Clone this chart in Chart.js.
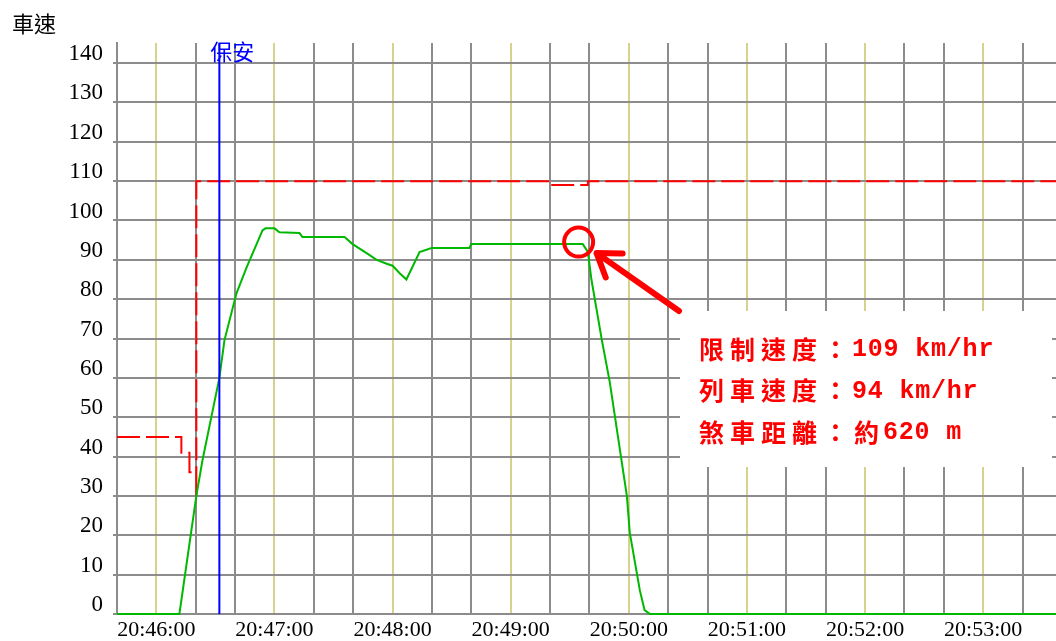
<!DOCTYPE html>
<html>
<head>
<meta charset="utf-8">
<script src="https://cdn.jsdelivr.net/npm/chart.js@4.4.0/dist/chart.umd.min.js"></script>
<style>
html, body { margin: 0; padding: 0; background: #ffffff; }
#wrap { width: 1056px; height: 641px; }
</style>
</head>
<body>
<div id="wrap"><canvas id="speedChart"></canvas></div>
<script>
// seconds counted from 20:46:00
const xMin = -20;
const xMax = 457;
const yMax = 145.1;

const tickSeconds = [0, 60, 120, 180, 240, 300, 360, 420];
const tickLabels = ['20:46:00', '20:47:00', '20:48:00', '20:49:00', '20:50:00', '20:51:00', '20:52:00', '20:53:00'];

// train speed (green)
const speedTimes  = [-20, 11.7, 20.3, 23.4, 32, 34.6, 40.7, 45.8, 53.9, 55.4, 60, 62.5, 72.7, 74.2, 95.6, 99.7, 106.8, 111.9, 117, 120, 123.6, 127, 133.7, 139.8, 159, 160, 216.6, 219.2, 221, 226.3, 230.3, 239, 240.5, 245.6, 248, 250.7, 457];
const speedValues = [0, 0, 30, 39, 60, 69.6, 81.5, 88, 97.5, 98, 98, 97, 96.8, 95.8, 95.8, 94, 91.7, 90, 89, 88.5, 86.6, 85, 92, 93, 93, 94, 94, 92, 85, 69.6, 59, 30, 20.6, 6, 1, 0, 0];

// speed limit (red dashed)
const limitTimes  = [-20, 12.7, 12.7, 16.8, 16.8, 20.3, 20.3, 20.3, 200.3, 200.3, 219.2, 219.2, 457];
const limitValues = [45, 45, 41, 41, 36, 36, 30, 110, 110, 109, 109, 110, 110];

// 保安 marker
const safetyTime = 32;

// highlighted point
const markTime = 214.5;
const markSpeed = 94.5;

const noteLines = ['限制速度：109 km/hr', '列車速度：94 km/hr', '煞車距離：約620 m'];

const gridGray = '#8c8c8c';
const gridYellow = '#d6d38e';

function toPoints(xs, ys) {
    return xs.map(function (x, i) { return { x: x, y: ys[i] }; });
}

const overlay = {
    id: 'overlay',
    afterDatasetsDraw(chart) {
        const ctx = chart.ctx;
        const xs = chart.scales.x;
        const ys = chart.scales.y;
        ctx.save();

        // axis title
        ctx.fillStyle = '#000000';
        ctx.font = '22px "Noto Sans CJK TC"';
        ctx.textBaseline = 'middle';
        ctx.textAlign = 'left';
        ctx.fillText('車速', 12, 24);

        // 保安 label
        ctx.fillStyle = '#0000ff';
        ctx.font = '22px "Noto Sans CJK TC"';
        ctx.fillText('保安', xs.getPixelForValue(safetyTime) - 9, 52);

        // note box
        ctx.fillStyle = '#ffffff';
        ctx.fillRect(680, 311, 372, 156);

        // circle
        const cx = xs.getPixelForValue(markTime);
        const cy = ys.getPixelForValue(markSpeed);
        ctx.strokeStyle = '#ff0000';
        ctx.lineWidth = 4;
        ctx.beginPath();
        ctx.arc(cx, cy, 14.5, 0, Math.PI * 2);
        ctx.stroke();

        // arrow
        const tipX = cx + 18, tipY = cy + 11;
        const tailX = 679, tailY = 311;
        const ang = Math.atan2(tailY - tipY, tailX - tipX);
        ctx.lineWidth = 6;
        ctx.lineCap = 'round';
        ctx.lineJoin = 'round';
        ctx.beginPath();
        ctx.moveTo(tailX, tailY);
        ctx.lineTo(tipX, tipY);
        ctx.moveTo(tipX + 26 * Math.cos(ang - 0.6), tipY + 26 * Math.sin(ang - 0.6));
        ctx.lineTo(tipX, tipY);
        ctx.lineTo(tipX + 26 * Math.cos(ang + 0.6), tipY + 26 * Math.sin(ang + 0.6));
        ctx.stroke();

        // note text, CJK full width and ASCII half width
        ctx.fillStyle = '#ff0000';
        noteLines.forEach(function (line, i) {
            let x = 697;
            const y = 349 + i * 41.5;
            for (const ch of line) {
                if (ch.charCodeAt(0) < 128) {
                    ctx.font = 'bold 25px "Liberation Mono"';
                    ctx.fillText(ch, x, y + 1);
                    x += 15.8;
                } else {
                    ctx.font = 'bold 25px "Noto Sans CJK TC"';
                    ctx.fillText(ch, x + 2, y);
                    x += 31;
                }
            }
        });

        ctx.restore();
    }
};

const speedChart = new Chart(document.getElementById('speedChart'), {
    type: 'line',
    data: {
        datasets: [{
            label: '保安',
            data: [{ x: safetyTime, y: 0 }, { x: safetyTime, y: yMax }],
            borderColor: '#0000ff',
            borderWidth: 2,
            pointRadius: 0,
            clip: false
        }, {
            label: '列車速度',
            data: toPoints(speedTimes, speedValues),
            borderColor: '#00b800',
            borderWidth: 2,
            pointRadius: 0,
            tension: 0,
            clip: false
        }, {
            label: '限制速度',
            data: toPoints(limitTimes, limitValues),
            borderColor: '#ff0000',
            borderWidth: 2,
            borderDash: [23, 6],
            pointRadius: 0,
            tension: 0,
            clip: false
        }]
    },
    options: {
        responsive: true,
        maintainAspectRatio: false,
        animation: false,
        layout: { padding: { top: 43, left: 0, right: 0, bottom: 0 } },
        plugins: {
            legend: { display: false },
            tooltip: { enabled: false }
        },
        scales: {
            x: {
                type: 'linear',
                min: xMin,
                max: xMax,
                afterFit: function (scale) { scale.height = 27; },
                afterBuildTicks: function (scale) {
                    const t = [];
                    for (let v = xMin; v <= xMax; v += 20) t.push({ value: v });
                    scale.ticks = t;
                },
                border: { display: false },
                grid: {
                    color: function (c) {
                        return tickSeconds.indexOf(c.tick.value) >= 0 ? gridYellow : gridGray;
                    },
                    lineWidth: 2,
                    drawTicks: false
                },
                ticks: {
                    autoSkip: false,
                    maxRotation: 0,
                    padding: 3,
                    color: '#000000',
                    font: { family: '"Liberation Serif"', size: 22 },
                    callback: function (v) {
                        const i = tickSeconds.indexOf(v);
                        return i >= 0 ? tickLabels[i] : '';
                    }
                }
            },
            y: {
                min: 0,
                max: yMax,
                afterFit: function (scale) { scale.width = 117; },
                border: { color: gridGray, width: 2 },
                grid: {
                    color: gridGray,
                    lineWidth: 2,
                    tickLength: 4
                },
                ticks: {
                    stepSize: 10,
                    includeBounds: false,
                    padding: 10,
                    labelOffset: -9,
                    color: '#000000',
                    font: { family: '"Liberation Serif"', size: 23 }
                }
            }
        }
    },
    plugins: [overlay]
});
</script>
</body>
</html>
